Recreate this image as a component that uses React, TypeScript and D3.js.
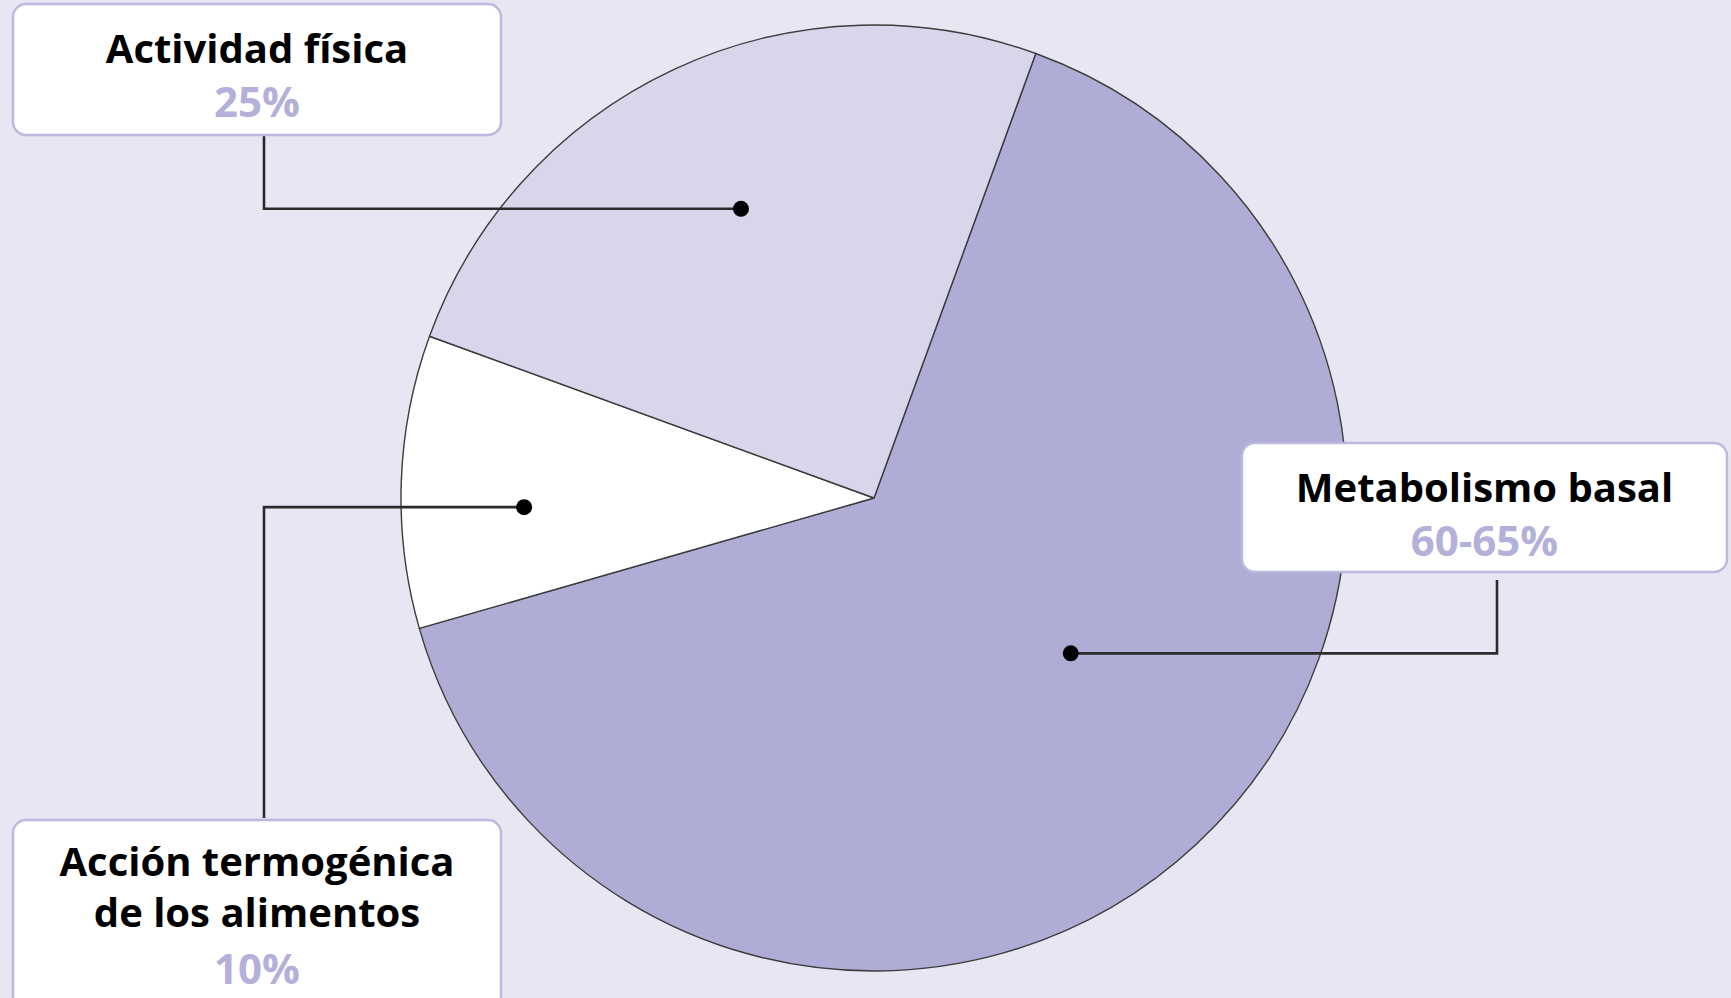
import React from "react";
import * as d3 from "d3";

// ---- data ----
const categories = ["Metabolismo basal", "Acción termogénica de los alimentos", "Actividad física"];
const values = [65, 10, 25];
const valueLabels = ["60-65%", "10%", "25%"];
const titleLines = [["Metabolismo basal"], ["Acción termogénica", "de los alimentos"], ["Actividad física"]];

// ---- layout / style ----
const W = 1731;
const H = 998;
const CX = 874;
const CY = 498;
const R = 473;
const START_DEG = 20;
const sliceFill = ["#afadd5", "#ffffff", "#d9d6eb"];
const BG = "#e8e6f2";
const PCT = "#b3b0da";
const BOX_STROKE = "#bcb9e0";
// dot anchors (angle deg clockwise from north, fraction of radius)
const dotAngle = [128.3, 268.5, 335.3];
const dotRad = [0.53, 0.74, 0.673];
// boxes: x, y, w, h
const boxes = [
  { x: 1242, y: 443, w: 485, h: 129 },
  { x: 13, y: 820, w: 488, h: 200 },
  { x: 13, y: 4, w: 488, h: 131 },
];
const elbowX = [1497, 264, 264];
const leaderEndY = [580, 818, 135];
const lineBaselines = [[502, 556], [876, 927, 984], [63, 117]];

const FONT = "'Open Sans', 'Noto Sans', sans-serif";

export default function App() {
  const pie = d3
    .pie<number>()
    .sort(null)
    .value((d) => d)
    .startAngle((START_DEG * Math.PI) / 180)
    .endAngle(((START_DEG + 360) * Math.PI) / 180);
  const arcs = pie(values);
  const arc = d3.arc<d3.PieArcDatum<number>>().innerRadius(0).outerRadius(R);

  return (
    <svg
      width={W}
      height={H}
      style={{ position: "absolute", left: 0, top: 0, display: "block" }}
    >
      <rect x={0} y={0} width={W} height={H} fill={BG} />
      <g transform={`translate(${CX},${CY})`}>
        {arcs.map((a, i) => (
          <path
            key={i}
            d={arc(a) || ""}
            fill={sliceFill[i]}
            stroke="#3c3c3c"
            strokeWidth={1.4}
            strokeLinejoin="round"
          />
        ))}
      </g>
      {categories.map((c, i) => {
        const [dx, dy] = d3.pointRadial((dotAngle[i] * Math.PI) / 180, dotRad[i] * R);
        const px = CX + dx;
        const py = CY + dy;
        const pts = `${px},${py} ${elbowX[i]},${py} ${elbowX[i]},${leaderEndY[i]}`;
        return (
          <g key={c}>
            <polyline points={pts} fill="none" stroke="#2b2b2b" strokeWidth={2.6} />
            <circle cx={px} cy={py} r={8} fill="#000" />
          </g>
        );
      })}
      {categories.map((c, i) => {
        const b = boxes[i];
        const cx = b.x + b.w / 2;
        const lines = titleLines[i];
        return (
          <g key={"b" + c}>
            <rect
              x={b.x}
              y={b.y}
              width={b.w}
              height={b.h}
              rx={13}
              fill="#fff"
              stroke={BOX_STROKE}
              strokeWidth={2.5}
            />
            {lines.map((l, j) => (
              <text
                key={j}
                x={cx}
                y={lineBaselines[i][j]}
                textAnchor="middle"
                fontFamily={FONT}
                fontWeight={700}
                fontSize={40}
                fill="#000"
              >
                {l}
              </text>
            ))}
            <text
              x={cx}
              y={lineBaselines[i][lines.length]}
              textAnchor="middle"
              fontFamily={FONT}
              fontWeight={700}
              fontSize={42}
              fill={PCT}
            >
              {valueLabels[i]}
            </text>
          </g>
        );
      })}
    </svg>
  );
}
